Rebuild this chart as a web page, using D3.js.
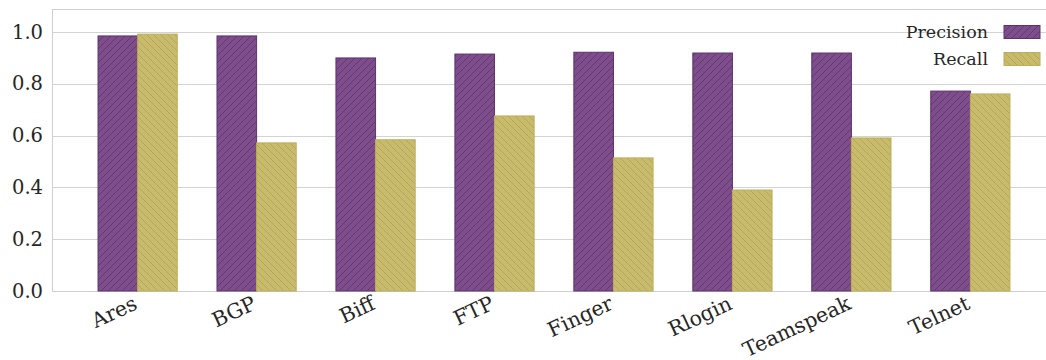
<!DOCTYPE html>
<html>
<head>
<meta charset="utf-8">
<script src="https://cdn.jsdelivr.net/npm/d3@7"></script>
<style>
  html, body { margin: 0; padding: 0; background: #fff; }
  svg { display: block; font-family: "DejaVu Serif", serif; }
</style>
</head>
<body>
<svg id="chart" width="1046" height="360"></svg>
<script>
// Per-protocol classification scores
const categories = ["Ares", "BGP", "Biff", "FTP", "Finger", "Rlogin", "Teamspeak", "Telnet"];
const precision = [0.985, 0.985, 0.900, 0.915, 0.922, 0.919, 0.919, 0.772];
const recall    = [0.992, 0.572, 0.584, 0.676, 0.514, 0.390, 0.591, 0.761];
const seriesNames = ["Precision", "Recall"];
const yTicks = [0.0, 0.2, 0.4, 0.6, 0.8, 1.0];

const svg = d3.select("#chart");
const plot = { left: 52, right: 1056, top: 9, bottom: 291 };

const x = d3.scaleLinear().domain([-0.72, categories.length - 0.28]).range([plot.left, plot.right]);
const y = d3.scaleLinear().domain([0, 1.089]).range([plot.bottom, plot.top]);
const barW = 0.333; // in category units

const styles = [
  { fill: "#7d4e8a", hatch: "#653678", stroke: "#5e3070", dir: 1, id: "hatchP", size: 7 },
  { fill: "#c9bb6e", hatch: "#b6a755", stroke: "#bdae58", dir: -1, id: "hatchR", size: 7 }
];

// Hatch patterns
const defs = svg.append("defs");
styles.forEach(s => {
  const n = s.size;
  const p = defs.append("pattern")
    .attr("id", s.id)
    .attr("patternUnits", "userSpaceOnUse")
    .attr("width", n).attr("height", n);
  p.append("rect").attr("width", n).attr("height", n).attr("fill", s.fill);
  const segs = s.dir > 0
    ? [[-1, 1, 1, -1], [0, n, n, 0], [n - 1, n + 1, n + 1, n - 1]]
    : [[-1, n - 1, 1, n + 1], [0, 0, n, n], [n - 1, -1, n + 1, 1]];
  segs.forEach(([x1, y1, x2, y2]) => {
    p.append("line").attr("x1", x1).attr("y1", y1).attr("x2", x2).attr("y2", y2)
      .attr("stroke", s.hatch).attr("stroke-width", 1);
  });
});

// Grid lines
svg.append("g").selectAll("line").data(yTicks).join("line")
  .attr("x1", plot.left).attr("x2", plot.right)
  .attr("y1", d => Math.round(y(d)) + 0.5).attr("y2", d => Math.round(y(d)) + 0.5)
  .attr("stroke", "#d3d3d3").attr("stroke-width", 1);

// Frame (left, top, bottom)
svg.append("line").attr("x1", plot.left + 0.5).attr("x2", plot.left + 0.5)
  .attr("y1", plot.top).attr("y2", plot.bottom).attr("stroke", "#cfcfcf");
svg.append("line").attr("x1", plot.left).attr("x2", plot.right)
  .attr("y1", plot.top + 0.5).attr("y2", plot.top + 0.5).attr("stroke", "#cfcfcf");
svg.append("line").attr("x1", plot.left).attr("x2", plot.right)
  .attr("y1", plot.bottom + 0.5).attr("y2", plot.bottom + 0.5).attr("stroke", "#cfcfcf");

// Bars
[precision, recall].forEach((vals, si) => {
  const s = styles[si];
  svg.append("g").selectAll("rect").data(vals).join("rect")
    .attr("x", (d, i) => x(i + (si === 0 ? -barW : 0)))
    .attr("width", x(barW) - x(0))
    .attr("y", d => y(d))
    .attr("height", d => y(0) - y(d))
    .attr("fill", `url(#${s.id})`)
    .attr("stroke", s.stroke).attr("stroke-width", 1);
});

// Y axis labels
svg.append("g").selectAll("text").data(yTicks).join("text")
  .attr("x", 43).attr("y", d => y(d))
  .attr("text-anchor", "end").attr("dominant-baseline", "central")
  .attr("font-size", 19.5).attr("fill", "#262626")
  .text(d => d.toFixed(1));

// X axis labels (rotated)
svg.append("g").selectAll("text").data(categories).join("text")
  .attr("transform", (d, i) => `translate(${x(i) - 2},${plot.bottom + 11}) rotate(-25)`)
  .attr("text-anchor", "end").attr("dominant-baseline", "central")
  .attr("font-size", 20.5).attr("fill", "#262626")
  .text(d => d);

// Legend
const legend = svg.append("g");
seriesNames.forEach((name, i) => {
  const cy = 32 + i * 27;
  legend.append("text").attr("x", 988).attr("y", cy)
    .attr("text-anchor", "end").attr("dominant-baseline", "central")
    .attr("font-size", 17.5).attr("fill", "#262626").text(name);
  legend.append("rect").attr("x", 1004).attr("y", cy - 6.5)
    .attr("width", 36).attr("height", 13)
    .attr("fill", `url(#${styles[i].id})`)
    .attr("stroke", styles[i].stroke).attr("stroke-width", 1);
});
</script>
</body>
</html>
